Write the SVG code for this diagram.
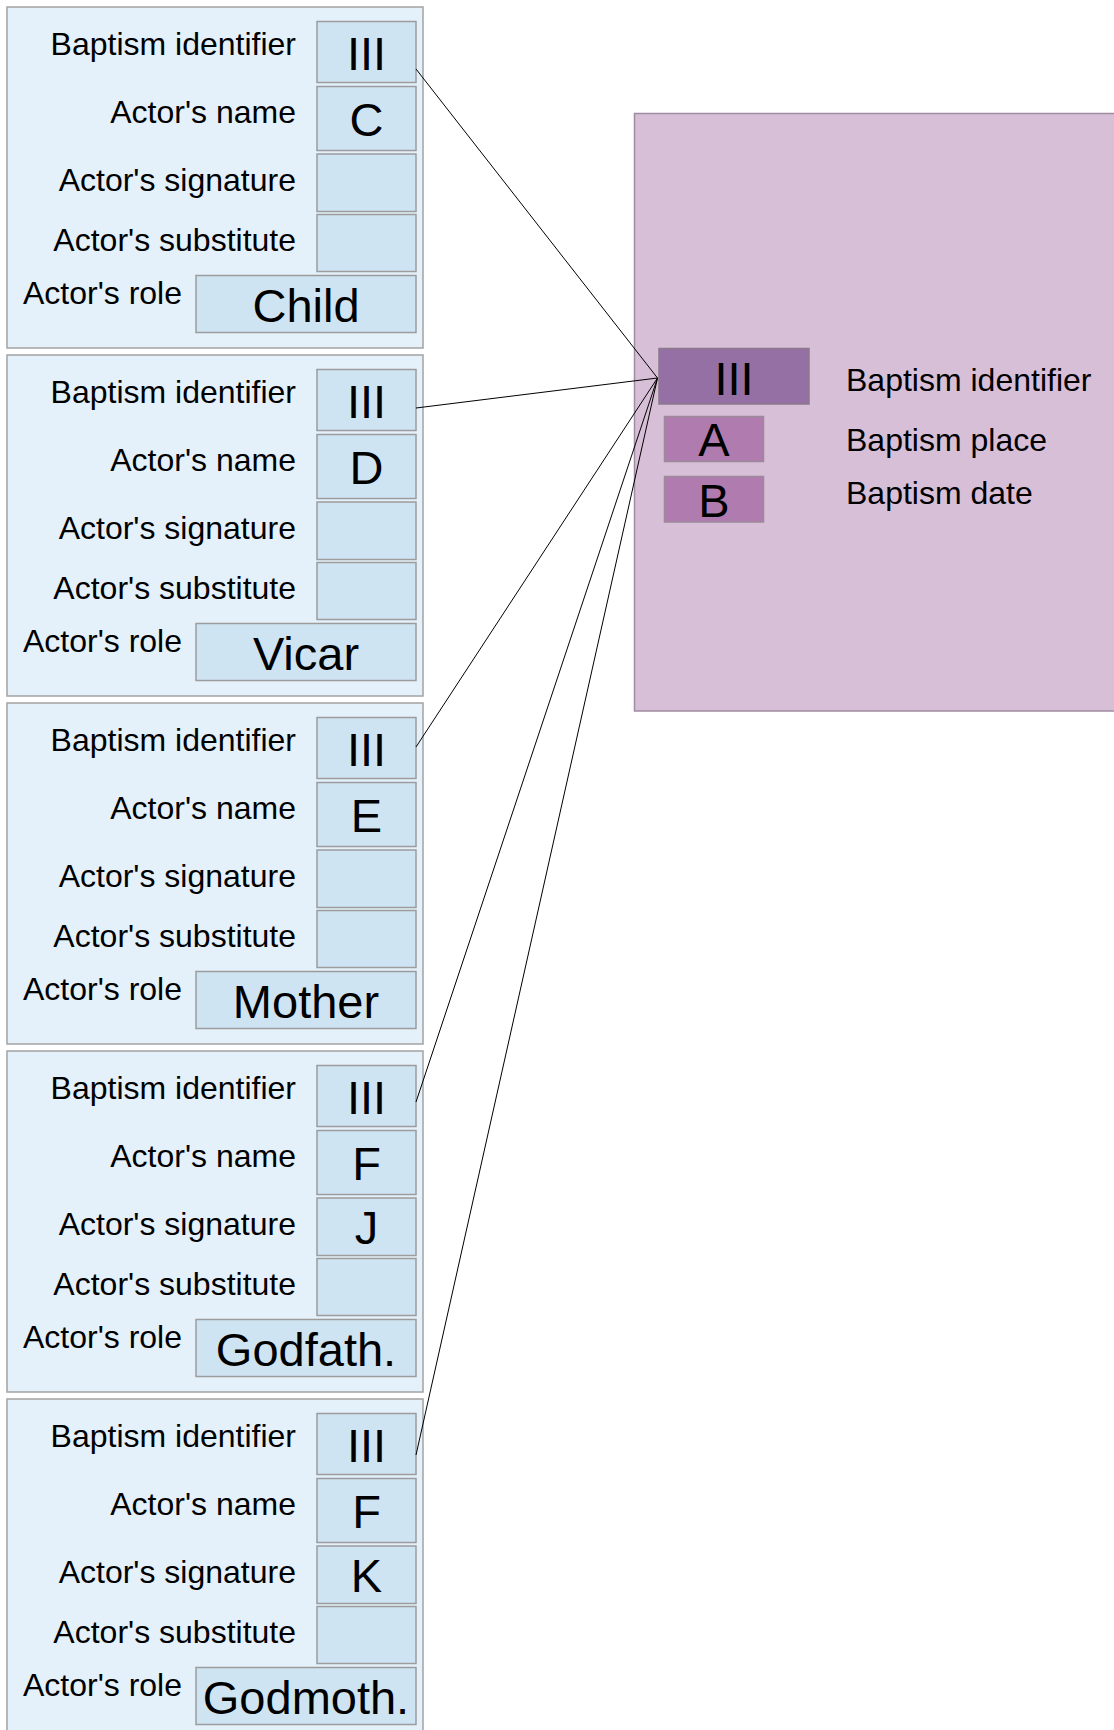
<svg xmlns="http://www.w3.org/2000/svg" width="1114" height="1730" viewBox="0 0 1114 1730">
<style>
.bg{fill:#ffffff}
.panel{fill:#e4f1fa;stroke:#a3a3a3;stroke-width:1.5}
.cell{fill:#cfe4f3;stroke:#9c9c9c;stroke-width:1.5}
.lbl{font-family:"Liberation Sans",Arial,sans-serif;font-size:32px;fill:#000;text-anchor:end}
.val{font-family:"Liberation Sans",Arial,sans-serif;font-size:47px;fill:#000;text-anchor:middle}
.rlbl{font-family:"Liberation Sans",Arial,sans-serif;font-size:32px;fill:#000}
.outer{fill:#d8bfd8;stroke:#a08ca0;stroke-width:1.5}
.key{fill:#9470a4;stroke:#8a7a8a;stroke-width:1.5}
.attr{fill:#b07bae;stroke:#9a8a9a;stroke-width:1.5}
.conn{stroke:#000;stroke-width:1;fill:none}
</style>
<rect class="bg" x="0" y="0" width="1114" height="1730"/>

<g id="baptism">
<rect class="outer" x="634.5" y="113.5" width="490" height="597.5"/>
<rect class="key" x="659" y="348.5" width="150" height="55.5"/>
<text class="val" x="734" y="394.5">III</text>
<rect class="attr" x="664.5" y="416.5" width="99" height="45"/>
<text class="val" x="714" y="455.5">A</text>
<rect class="attr" x="664.5" y="476.5" width="99" height="45.5"/>
<text class="val" x="714" y="516.5">B</text>
<text class="rlbl" x="846" y="390.5">Baptism identifier</text>
<text class="rlbl" x="846" y="450.5">Baptism place</text>
<text class="rlbl" x="846" y="503.5">Baptism date</text>
</g>

<g id="actor1" transform="translate(0,7)">
<rect class="panel" x="7" y="0" width="416" height="341"/>
<text class="lbl" x="296" y="48">Baptism identifier</text>
<text class="lbl" x="296" y="115.5">Actor's name</text>
<text class="lbl" x="296" y="184">Actor's signature</text>
<text class="lbl" x="296" y="243.5">Actor's substitute</text>
<text class="lbl" x="182" y="296.5">Actor's role</text>
<rect class="cell" x="317" y="14.5" width="99" height="61"/>
<rect class="cell" x="317" y="79.5" width="99" height="64"/>
<rect class="cell" x="317" y="147" width="99" height="57.5"/>
<rect class="cell" x="317" y="207.5" width="99" height="57"/>
<rect class="cell" x="196" y="268.5" width="220" height="57"/>
<text class="val" x="366.5" y="62.5">III</text>
<text class="val" x="366.5" y="129">C</text>
<text class="val" x="306" y="314.5">Child</text>
</g>

<g id="actor2" transform="translate(0,355)">
<rect class="panel" x="7" y="0" width="416" height="341"/>
<text class="lbl" x="296" y="48">Baptism identifier</text>
<text class="lbl" x="296" y="115.5">Actor's name</text>
<text class="lbl" x="296" y="184">Actor's signature</text>
<text class="lbl" x="296" y="243.5">Actor's substitute</text>
<text class="lbl" x="182" y="296.5">Actor's role</text>
<rect class="cell" x="317" y="14.5" width="99" height="61"/>
<rect class="cell" x="317" y="79.5" width="99" height="64"/>
<rect class="cell" x="317" y="147" width="99" height="57.5"/>
<rect class="cell" x="317" y="207.5" width="99" height="57"/>
<rect class="cell" x="196" y="268.5" width="220" height="57"/>
<text class="val" x="366.5" y="62.5">III</text>
<text class="val" x="366.5" y="129">D</text>
<text class="val" x="306" y="314.5">Vicar</text>
</g>

<g id="actor3" transform="translate(0,703)">
<rect class="panel" x="7" y="0" width="416" height="341"/>
<text class="lbl" x="296" y="48">Baptism identifier</text>
<text class="lbl" x="296" y="115.5">Actor's name</text>
<text class="lbl" x="296" y="184">Actor's signature</text>
<text class="lbl" x="296" y="243.5">Actor's substitute</text>
<text class="lbl" x="182" y="296.5">Actor's role</text>
<rect class="cell" x="317" y="14.5" width="99" height="61"/>
<rect class="cell" x="317" y="79.5" width="99" height="64"/>
<rect class="cell" x="317" y="147" width="99" height="57.5"/>
<rect class="cell" x="317" y="207.5" width="99" height="57"/>
<rect class="cell" x="196" y="268.5" width="220" height="57"/>
<text class="val" x="366.5" y="62.5">III</text>
<text class="val" x="366.5" y="129">E</text>
<text class="val" x="306" y="314.5">Mother</text>
</g>

<g id="actor4" transform="translate(0,1051)">
<rect class="panel" x="7" y="0" width="416" height="341"/>
<text class="lbl" x="296" y="48">Baptism identifier</text>
<text class="lbl" x="296" y="115.5">Actor's name</text>
<text class="lbl" x="296" y="184">Actor's signature</text>
<text class="lbl" x="296" y="243.5">Actor's substitute</text>
<text class="lbl" x="182" y="296.5">Actor's role</text>
<rect class="cell" x="317" y="14.5" width="99" height="61"/>
<rect class="cell" x="317" y="79.5" width="99" height="64"/>
<rect class="cell" x="317" y="147" width="99" height="57.5"/>
<rect class="cell" x="317" y="207.5" width="99" height="57"/>
<rect class="cell" x="196" y="268.5" width="220" height="57"/>
<text class="val" x="366.5" y="62.5">III</text>
<text class="val" x="366.5" y="129">F</text>
<text class="val" x="366.5" y="193">J</text>
<text class="val" x="306" y="314.5">Godfath.</text>
</g>

<g id="actor5" transform="translate(0,1399)">
<rect class="panel" x="7" y="0" width="416" height="341"/>
<text class="lbl" x="296" y="48">Baptism identifier</text>
<text class="lbl" x="296" y="115.5">Actor's name</text>
<text class="lbl" x="296" y="184">Actor's signature</text>
<text class="lbl" x="296" y="243.5">Actor's substitute</text>
<text class="lbl" x="182" y="296.5">Actor's role</text>
<rect class="cell" x="317" y="14.5" width="99" height="61"/>
<rect class="cell" x="317" y="79.5" width="99" height="64"/>
<rect class="cell" x="317" y="147" width="99" height="57.5"/>
<rect class="cell" x="317" y="207.5" width="99" height="57"/>
<rect class="cell" x="196" y="268.5" width="220" height="57"/>
<text class="val" x="366.5" y="62.5">III</text>
<text class="val" x="366.5" y="129">F</text>
<text class="val" x="366.5" y="193">K</text>
<text class="val" x="306" y="314.5">Godmoth.</text>
</g>

<g id="connectors">
<line class="conn" x1="416" y1="69" x2="657.5" y2="378"/>
<line class="conn" x1="416" y1="408" x2="657.5" y2="378"/>
<line class="conn" x1="416" y1="747" x2="657.5" y2="378"/>
<line class="conn" x1="416" y1="1102" x2="657.5" y2="378"/>
<line class="conn" x1="416" y1="1455" x2="657.5" y2="378"/>
</g>
</svg>
